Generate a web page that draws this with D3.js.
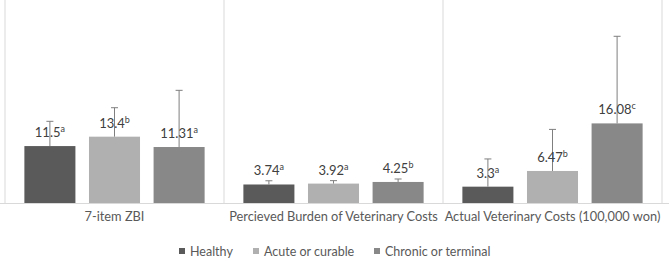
<!DOCTYPE html>
<html><head><meta charset="utf-8">
<script src="https://cdn.jsdelivr.net/npm/d3@7"></script>
<style>body{margin:0;background:#fff}svg{display:block}</style>
</head><body>
<svg id="c" width="669" height="268"></svg>
<script>
const categories = ["7-item ZBI", "Percieved Burden of Veterinary Costs", "Actual Veterinary Costs (100,000 won)"];
const seriesNames = ["Healthy", "Acute or curable", "Chronic or terminal"];
const seriesColors = ["#5a5a5a", "#b0b0b0", "#888888"];
const healthy = [11.5, 3.74, 3.3];
const acute = [13.4, 3.92, 6.47];
const chronic = [11.31, 4.25, 16.08];
const healthySD = [5.0, 0.75, 5.6];
const acuteSD = [5.85, 0.6, 8.4];
const chronicSD = [11.45, 0.6, 17.6];
const healthySup = ["a", "a", "a"];
const acuteSup = ["b", "a", "b"];
const chronicSup = ["a", "b", "c"];
const labelText = [["11.5", "3.74", "3.3"], ["13.4", "3.92", "6.47"], ["11.31", "4.25", "16.08"]];

const values = [healthy, acute, chronic];
const sds = [healthySD, acuteSD, chronicSD];
const sups = [healthySup, acuteSup, chronicSup];

const svg = d3.select("#c");
const font = "Lato, 'Open Sans', sans-serif";
const mLeft = 5, mRight = 662, mTop = 5, mBottom = 203;

const x0 = d3.scaleBand().domain(categories).range([mLeft, mRight]).paddingInner(0).paddingOuter(0);
const x1 = d3.scaleBand().domain(seriesNames).range([0, x0.bandwidth()]).paddingInner(0.21).paddingOuter(0.3);
const y = d3.scaleLinear().domain([0, 40]).range([mBottom, mTop]);

// separators
const seps = categories.map(c => x0(c)).concat([mRight]);
svg.selectAll("line.sep").data(seps).enter().append("line")
  .attr("x1", d => d).attr("x2", d => d).attr("y1", 0).attr("y2", mBottom)
  .attr("stroke", "#d9d9d9").attr("stroke-width", 1);
svg.append("line").attr("x1", 0).attr("x2", 669).attr("y1", mBottom + 0.5).attr("y2", mBottom + 0.5)
  .attr("stroke", "#d9d9d9");

const data = [];
categories.forEach((c, ci) => seriesNames.forEach((s, si) => {
  data.push({c, s, si, v: values[si][ci], sd: sds[si][ci], sup: sups[si][ci], lab: labelText[si][ci]});
}));

const g = svg.append("g");
g.selectAll("rect.bar").data(data).enter().append("rect")
  .attr("x", d => x0(d.c) + x1(d.s)).attr("width", x1.bandwidth())
  .attr("y", d => y(d.v)).attr("height", d => y(0) - y(d.v))
  .attr("fill", d => seriesColors[d.si]);

// error bars
const cx = d => x0(d.c) + x1(d.s) + x1.bandwidth() / 2;
g.selectAll("line.err").data(data).enter().append("line")
  .attr("x1", cx).attr("x2", cx).attr("y1", d => y(d.v)).attr("y2", d => y(d.v + d.sd))
  .attr("stroke", "#7f7f7f").attr("stroke-width", 1);
g.selectAll("line.cap").data(data).enter().append("line")
  .attr("x1", d => cx(d) - 3.5).attr("x2", d => cx(d) + 3.5).attr("y1", d => y(d.v + d.sd)).attr("y2", d => y(d.v + d.sd))
  .attr("stroke", "#7f7f7f").attr("stroke-width", 1);

// value labels
const lt = g.selectAll("text.val").data(data).enter().append("text")
  .attr("x", cx).attr("y", d => y(d.v) - 9)
  .attr("text-anchor", "middle").attr("font-family", font).attr("font-size", 13).attr("fill", "#404040");
lt.append("tspan").text(d => d.lab);
lt.append("tspan").attr("dy", -5).attr("font-size", 9).text(d => d.sup);

// category labels
svg.selectAll("text.cat").data(categories).enter().append("text")
  .attr("x", d => x0(d) + x0.bandwidth() / 2).attr("y", 221)
  .attr("text-anchor", "middle").attr("font-family", font).attr("font-size", 12.8).attr("fill", "#595959")
  .text(d => d);

// legend
const legX = [179, 253, 374];
const lg = svg.selectAll("g.leg").data(seriesNames).enter().append("g")
  .attr("transform", (d, i) => `translate(${legX[i]},0)`);
lg.append("rect").attr("x", 0).attr("y", 248).attr("width", 6).attr("height", 6)
  .attr("fill", (d, i) => seriesColors[i]);
lg.append("text").attr("x", 11).attr("y", 256).attr("font-family", font).attr("font-size", 12.5)
  .attr("fill", "#595959").text(d => d);
</script>
</body></html>
